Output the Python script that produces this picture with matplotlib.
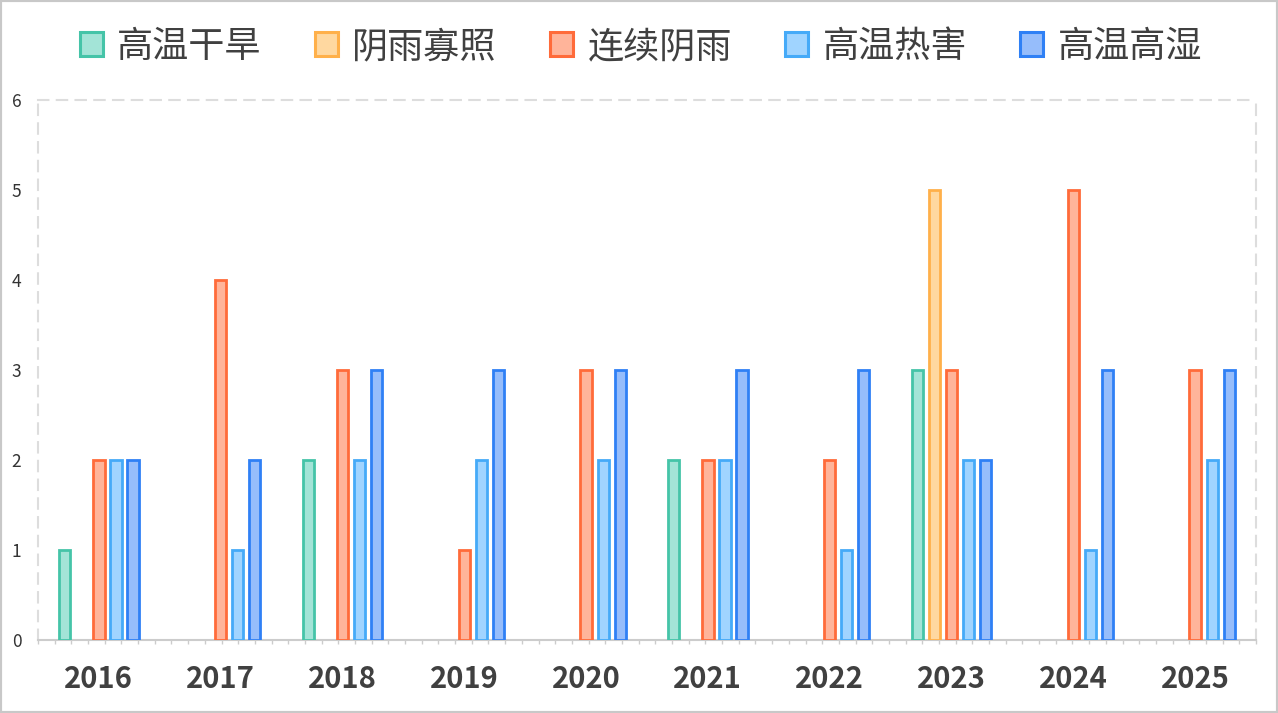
import numpy as np
import matplotlib.pyplot as plt
from matplotlib.patches import Patch, Rectangle

plt.rcParams['font.family'] = ['Noto Sans CJK SC', 'DejaVu Sans']

years = ['2016', '2017', '2018', '2019', '2020', '2021', '2022', '2023', '2024', '2025']
series_names = ['高温干旱', '阴雨寡照', '连续阴雨', '高温热害', '高温高湿']
gaowen_ganhan = [1, 0, 2, 0, 0, 2, 0, 3, 0, 0]
yinyu_guazhao = [0, 0, 0, 0, 0, 0, 0, 5, 0, 0]
lianxu_yinyu = [2, 4, 3, 1, 3, 2, 2, 3, 5, 3]
gaowen_rehai = [2, 1, 2, 2, 2, 2, 1, 2, 1, 2]
gaowen_gaoshi = [2, 2, 3, 3, 3, 3, 3, 2, 3, 3]

edge_colors = ['#45c4a8', '#ffb04a', '#ff6b3a', '#45aaf8', '#2f80f5']
fill_colors = ['#a3e4d7', '#ffd8a0', '#ffb49a', '#a0d4ff', '#96bdfb']

all_series = [gaowen_ganhan, yinyu_guazhao, lianxu_yinyu, gaowen_rehai, gaowen_gaoshi]

fig = plt.figure(figsize=(12.78, 7.13), dpi=100)
ax = fig.add_axes([38 / 1278, (713 - 640) / 713, (1256 - 38) / 1278, 540 / 713])

x = np.arange(len(years))
pitch = 0.14
width = 0.092
for k, vals in enumerate(all_series):
    vals = np.array(vals)
    mask = vals > 0
    ax.bar(x[mask] + (k - 2) * pitch, vals[mask], width=width,
           color=fill_colors[k], edgecolor=edge_colors[k], linewidth=2, zorder=3)

ax.set_xlim(-0.5, len(years) - 0.5)
ax.set_ylim(0, 6)
ax.set_yticks(range(7))
ax.tick_params(axis='y', length=0, pad=12, labelsize=12.5, labelcolor='#333333')
ax.set_xticks(x)
ax.set_xticklabels(years, fontsize=21, fontweight='bold', color='#404040')
ax.tick_params(axis='x', which='major', length=0, pad=17)
ax.set_xticks(np.linspace(-0.5, len(years) - 0.5, 74), minor=True)
ax.tick_params(axis='x', which='minor', length=3, color='#cccccc', width=1)

for side in ['top', 'left', 'right']:
    ax.spines[side].set_color('#dddddd')
    ax.spines[side].set_linestyle((0, (5, 4)))
    ax.spines[side].set_linewidth(1.5)
ax.spines['bottom'].set_color('#cccccc')
ax.spines['bottom'].set_linewidth(1.5)

handles = [Patch(facecolor=fill_colors[k], edgecolor=edge_colors[k], linewidth=2.2)
           for k in range(len(series_names))]
fig.legend(handles, series_names, loc='center', bbox_to_anchor=(641 / 1278, 1 - 47 / 713),
           ncol=5, frameon=False, fontsize=26, handlelength=0.64, handleheight=0.64,
           handletextpad=0.4, columnspacing=1.47, labelcolor='#404040')

fig.patches.append(Rectangle((0, 0), 1, 1, transform=fig.transFigure, fill=False,
                             edgecolor='#c8c8c8', linewidth=3))

fig.savefig('out.png', dpi=100)
